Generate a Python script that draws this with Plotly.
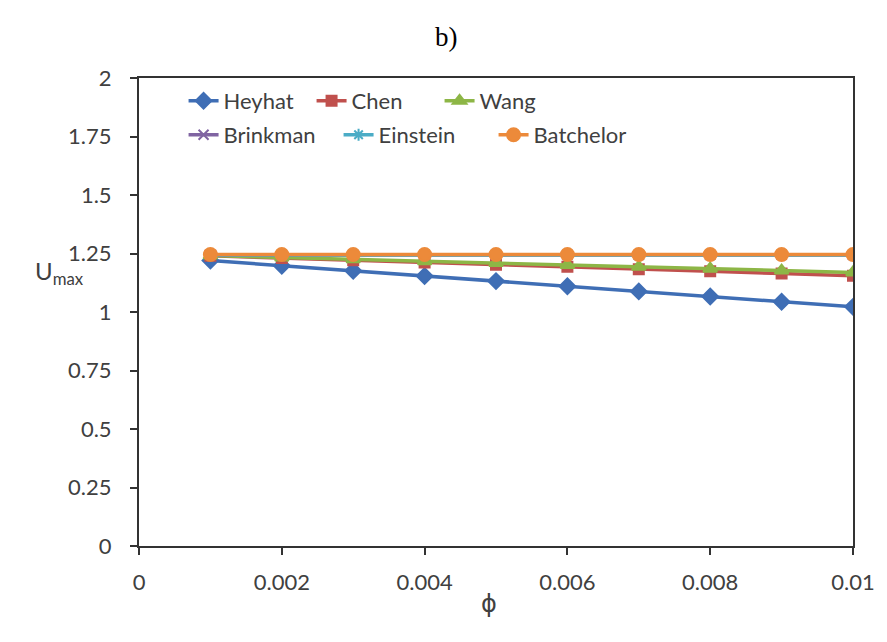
import plotly.graph_objects as go

# Volume fraction of nanoparticles
phi = [0.001, 0.002, 0.003, 0.004, 0.005, 0.006, 0.007, 0.008, 0.009, 0.010]

# Maximum velocity for each viscosity model
heyhat = [1.220, 1.198, 1.176, 1.154, 1.132, 1.110, 1.088, 1.066, 1.044, 1.022]
chen = [1.240, 1.231, 1.221, 1.212, 1.202, 1.193, 1.183, 1.174, 1.164, 1.155]
wang = [1.241, 1.233, 1.225, 1.217, 1.209, 1.201, 1.193, 1.185, 1.177, 1.169]
brinkman = [1.244, 1.244, 1.244, 1.244, 1.244, 1.244, 1.244, 1.244, 1.244, 1.244]
einstein = [1.244, 1.244, 1.244, 1.244, 1.244, 1.244, 1.244, 1.244, 1.244, 1.244]
batchelor = [1.246, 1.246, 1.246, 1.246, 1.246, 1.246, 1.246, 1.246, 1.246, 1.246]

y_ticks = [0, 0.25, 0.5, 0.75, 1, 1.25, 1.5, 1.75, 2]
y_labels = ["0", "0.25", "0.5", "0.75", "1", "1.25", "1.5", "1.75", "2"]
x_ticks = [0, 0.002, 0.004, 0.006, 0.008, 0.01]
x_labels = ["0", "0.002", "0.004", "0.006", "0.008", "0.01"]

FONT = "Lato, 'Open Sans', sans-serif"
TXT = "#404040"

series = [
    ("Heyhat", heyhat, "#3F6EB5", "diamond", 12, "legend"),
    ("Chen", chen, "#C0504D", "square", 10, "legend"),
    ("Wang", wang, "#8DB646", "triangle-up", 12, "legend"),
    ("Brinkman", brinkman, "#8064A2", "x-thin-open", 10, "legend2"),
    ("Einstein", einstein, "#4BACC6", "asterisk-open", 10, "legend2"),
    ("Batchelor", batchelor, "#EC8A3A", "circle", 13, "legend2"),
]

fig = go.Figure()
for name, vals, color, sym, size, leg in series:
    fig.add_trace(go.Scatter(
        x=phi, y=vals, name=name, mode="lines+markers",
        line=dict(color=color, width=3.5),
        marker=dict(symbol=sym, size=size, color=color,
                    line=dict(color=color, width=2)),
        legend=leg,
    ))

L, R, T, B = 139, 27, 78, 96
W, H = 887, 642
pw, ph = W - L - R, H - T - B

axis_common = dict(
    showline=True, linecolor="#333333", linewidth=2, mirror=True,
    ticks="outside", ticklen=7, tickwidth=2, tickcolor="#333333",
    showgrid=False, zeroline=False,
    tickfont=dict(family=FONT, size=22, color=TXT),
)

legend_font = dict(family=FONT, size=22, color=TXT)

fig.update_layout(
    width=W, height=H,
    margin=dict(l=L, r=R, t=T, b=B),
    paper_bgcolor="white", plot_bgcolor="white",
    font=dict(family=FONT, color=TXT),
    xaxis=dict(range=[0, 0.01], tickvals=x_ticks, ticktext=x_labels,
               ticklabelstandoff=9, **axis_common),
    yaxis=dict(range=[0, 2], tickvals=y_ticks, ticktext=y_labels,
               ticklabelstandoff=14, **axis_common),
    legend=dict(orientation="h", x=(184 - L) / pw, y=(546 - 80) / ph,
                xanchor="left", yanchor="top", font=legend_font,
                bgcolor="rgba(0,0,0,0)", itemwidth=30, tracegroupgap=0,
                entrywidth=83, traceorder="normal"),
    legend2=dict(orientation="h", x=(184 - L) / pw, y=(546 - 114) / ph,
                 xanchor="left", yanchor="top", font=legend_font,
                 bgcolor="rgba(0,0,0,0)", itemwidth=30, tracegroupgap=0,
                 entrywidth=110, traceorder="normal"),
    showlegend=True,
)

fig.add_annotation(text="b)", xref="paper", yref="paper",
                   x=(450 - L) / pw, y=(546 - 20) / ph,
                   showarrow=False,
                   font=dict(family="Liberation Serif", size=27, color="black"))
fig.add_annotation(text="U<sub>max</sub>", xref="paper", yref="paper",
                   x=(32 - L) / pw, y=(546 - 272) / ph,
                   showarrow=False,
                   font=dict(family=FONT, size=24, color=TXT))
fig.add_annotation(text="ϕ", xref="paper", yref="paper",
                   x=(492 - L) / pw, y=(546 - 620) / ph,
                   showarrow=False,
                   font=dict(family="DejaVu Sans", size=24, color=TXT))

fig.write_html("out.html")
